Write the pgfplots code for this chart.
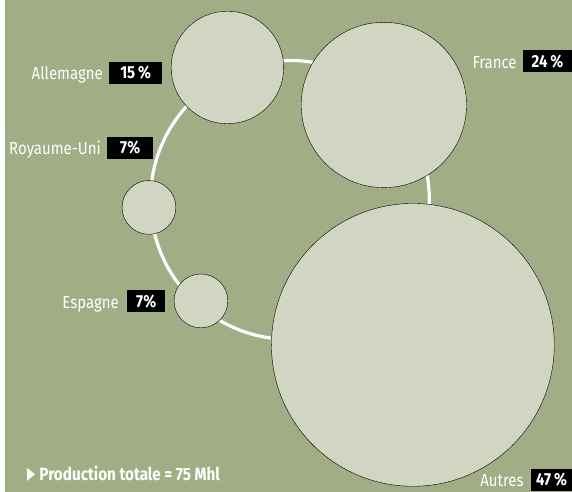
\documentclass[border=0pt]{standalone}
\usepackage{pgfplots}
\pgfplotsset{compat=1.18}
\usepackage{pgfplotstable}
\usepackage{fontspec}
\setmainfont{Fira Sans}[FakeStretch=0.86]
\definecolor{bg}{HTML}{A1AD84}
\definecolor{bub}{HTML}{D1D5C2}
\pgfplotstableread{
x y r
227.5 67.5 56.5
384 105 83
149 207.5 27
201 301 27
413 345 142
}\bubbles
\newcommand{\lab}[6]{%
  \node[anchor=base east, text=white, inner sep=0pt] at (axis cs:#1,#2+7) {#3};
  \node[anchor=west, fill=black, text=white, font=\fontsize{17.5}{20}\selectfont\bfseries, minimum width=#5bp, minimum height=22bp, inner sep=0pt] at (axis cs:#4,#2) {#6};
}
\begin{document}
\begin{tikzpicture}[font=\fontsize{17.5}{20}\selectfont]
\begin{axis}[scale only axis, width=572bp, height=492bp, xmin=0, xmax=572, ymin=0, ymax=492, y dir=reverse, axis lines=none, clip=false]
\fill[white] (axis cs:0,0) rectangle (axis cs:572,492);
\fill[bg] (axis cs:5,0) rectangle (axis cs:572,492);
\draw[white, line width=3.2bp] (axis cs:290,200) circle[radius=139.5];
\addplot[scatter, only marks, mark=*,
  scatter/use mapped color={draw=none, fill=bub},
  visualization depends on={\thisrow{r} \as \rr},
  scatter/@pre marker code/.append style={/tikz/mark size=\rr}] table[x=x,y=y] {\bubbles};
\lab{103}{73}{Allemagne}{109}{53}{15\,\%}
\lab{101}{148}{Royaume-Uni}{107}{46}{7\%}
\lab{517}{61.5}{France}{523}{49}{24\,\%}
\lab{119}{301.5}{Espagne}{127}{38}{7\%}
\lab{524}{480}{Autres}{531}{41}{47\,\%}
\fill[white] (axis cs:27,468) -- (axis cs:35,474.5) -- (axis cs:27,481) -- cycle;
\node[anchor=base west, text=white, inner sep=0pt, font=\fontsize{17.8}{20}\selectfont\bfseries] at (axis cs:39.3,480.7) {Production totale = 75 Mhl};
\end{axis}
\end{tikzpicture}
\end{document}
